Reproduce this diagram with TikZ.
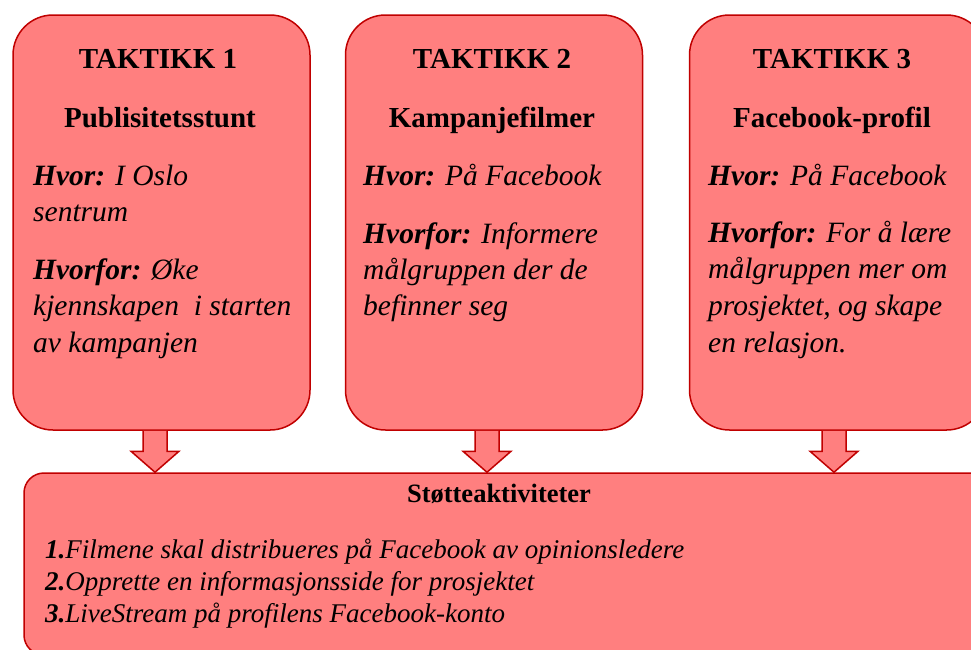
\documentclass[tikz,border=0pt]{standalone}
\usepackage{fontspec}
\setmainfont{Liberation Serif}
\usetikzlibrary{calc}
\definecolor{boxfill}{RGB}{255,127,127}
\definecolor{boxline}{RGB}{192,0,0}
\tikzset{
  tbox/.style={draw=boxline, fill=boxfill, line width=1.5pt, rounded corners=40pt,
    minimum width=297pt, minimum height=415pt, inner sep=0pt},
  sbox/.style={draw=boxline, fill=boxfill, line width=1.5pt, rounded corners=20pt,
    minimum width=966pt, minimum height=182pt, inner sep=0pt},
  ttl/.style={inner sep=0pt, anchor=base, font=\fontsize{29}{35}\selectfont\bfseries},
  bt/.style={inner sep=0pt, anchor=base west, font=\fontsize{29.5}{36}\selectfont\itshape},
  st/.style={inner sep=0pt, anchor=base west, font=\fontsize{27}{32}\selectfont\itshape},
  sttl/.style={inner sep=0pt, anchor=base, font=\fontsize{26.5}{32}\selectfont\bfseries},
  barrow/.style={draw=boxline, fill=boxfill, line width=1.5pt, line join=miter}
}
\begin{document}
\begin{tikzpicture}[x=1pt,y=-1pt]
\useasboundingbox (0,0) rectangle (971,649);
\clip (0,0) rectangle (971,649);
% boxes
\node[tbox] (t1) at (161.5,222.5) {};
\node[tbox] (t2) at (494,222.5) {};
\node[tbox] (t3) at (838,222.5) {};
\node[sbox] (sup) at (507,564) {};
% arrows
\coordinate (a1) at (155,0);
\coordinate (a2) at (487,0);
\coordinate (a3) at (834,0);
\foreach \t/\a in {t1/a1,t2/a2,t3/a3}{
  \draw[barrow] ($(\t.south -| \a)+(-12,0)$) -- ($(sup.north -| \a)+(-12,-21)$)
    -- ($(sup.north -| \a)+(-24,-21)$) -- (sup.north -| \a)
    -- ($(sup.north -| \a)+(24,-21)$) -- ($(sup.north -| \a)+(12,-21)$)
    -- ($(\t.south -| \a)+(12,0)$);
}
% box 1
\node[ttl] (t1a) at (158,68) {TAKTIKK 1};
\node[ttl] (t1b) at (160,127) {Publisitetsstunt};
\node[bt] (t1c) at (33,185) {\textbf{Hvor:} I Oslo};
\node[bt] (t1d) at (33,221) {sentrum};
\node[bt] (t1e) at (33,279) {\textbf{Hvorfor:} Øke};
\node[bt] (t1f) at (33,315) {kjennskapen\ \ i starten};
\node[bt] (t1g) at (33,352) {av kampanjen};
% box 2
\node[ttl] (t2a) at (492,68) {TAKTIKK 2};
\node[ttl] (t2b) at (492,127) {Kampanjefilmer};
\node[bt] (t2c) at (363,185) {\textbf{Hvor:} På Facebook};
\node[bt] (t2d) at (363,243) {\textbf{Hvorfor:} Informere};
\node[bt] (t2e) at (363,279) {målgruppen der de};
\node[bt] (t2f) at (363,315) {befinner seg};
% box 3
\node[ttl] (t3a) at (832,68) {TAKTIKK 3};
\node[ttl] (t3b) at (832,127) {Facebook-profil};
\node[bt] (t3c) at (708,185) {\textbf{Hvor:} På Facebook};
\node[bt] (t3d) at (708,242) {\textbf{Hvorfor:} For å lære};
\node[bt] (t3e) at (708,278) {målgruppen mer om};
\node[bt] (t3f) at (708,315) {prosjektet, og skape};
\node[bt] (t3g) at (708,352) {en relasjon.};
% support box
\node[sttl] (s0) at (499,502) {Støtteaktiviteter};
\node[st] (s1) at (45,558) {\textbf{1.}Filmene skal distribueres på Facebook av opinionsledere};
\node[st] (s2) at (45,590) {\textbf{2.}Opprette en informasjonsside for prosjektet};
\node[st] (s3) at (45,622) {\textbf{3.}LiveStream på profilens Facebook-konto};
\end{tikzpicture}
\end{document}
